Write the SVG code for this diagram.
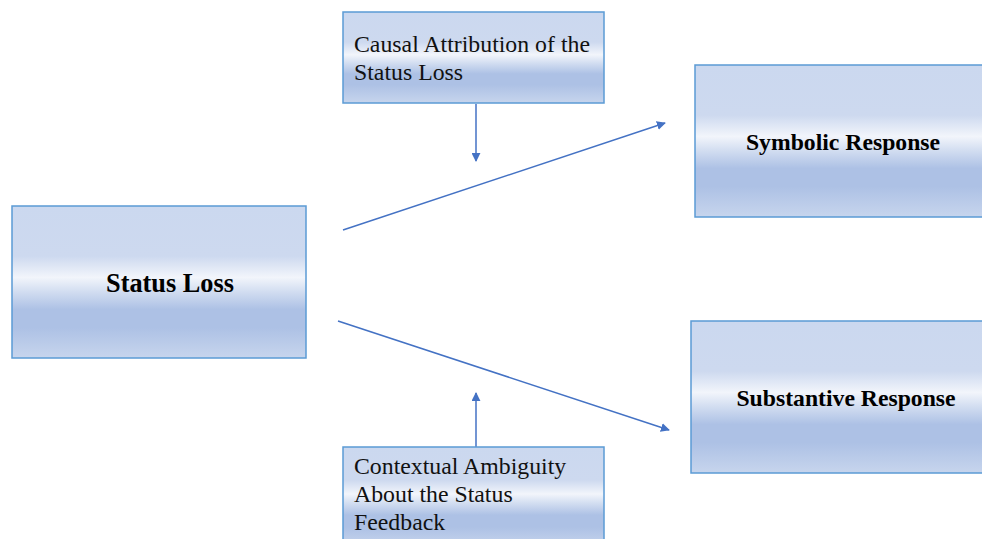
<svg xmlns="http://www.w3.org/2000/svg" width="982" height="539" viewBox="0 0 982 539">
<defs>
<linearGradient id="g" x1="0" y1="0" x2="0" y2="1">
<stop offset="0" stop-color="#cbd8ef"/>
<stop offset="0.33" stop-color="#cdd9ef"/>
<stop offset="0.47" stop-color="#f2f5fb"/>
<stop offset="0.56" stop-color="#d3def1"/>
<stop offset="0.68" stop-color="#adc1e5"/>
<stop offset="0.8" stop-color="#adc1e5"/>
<stop offset="1" stop-color="#c7d5ed"/>
</linearGradient>
<marker id="ah" viewBox="0 0 10 10" refX="9" refY="5" markerWidth="9" markerHeight="9" markerUnits="userSpaceOnUse" orient="auto">
<path d="M0,0 L10,5 L0,10 Z" fill="#4472c4"/>
</marker>
<style>
.box{fill:url(#g);stroke:#5b9bd5;stroke-width:1.5}
.b{font-family:'Liberation Serif','Times New Roman','DejaVu Serif',serif;font-weight:bold;fill:#000}
.r{font-family:'Liberation Serif','Times New Roman','DejaVu Serif',serif;font-size:23.8px;fill:#111}
.c{stroke:#4472c4;stroke-width:1.5;fill:none;marker-end:url(#ah)}
</style>
</defs>
<g id="connectors">
<line class="c" x1="343" y1="230" x2="665" y2="123"/>
<line class="c" x1="338" y1="321" x2="669" y2="430"/>
<line class="c" x1="476" y1="104" x2="476" y2="161"/>
<line class="c" x1="476" y1="447" x2="476" y2="393"/>
</g>
<g id="status-loss">
<rect class="box" x="12" y="206" width="294" height="152"/>
<text class="b" x="170" y="292" font-size="26.3" text-anchor="middle">Status Loss</text>
</g>
<g id="causal-attribution">
<rect class="box" x="343" y="12" width="261" height="91"/>
<text class="r" x="354" y="52">Causal Attribution of the</text>
<text class="r" x="354" y="80">Status Loss</text>
</g>
<g id="contextual-ambiguity">
<rect class="box" x="343" y="447" width="261" height="100"/>
<text class="r" x="354" y="474">Contextual Ambiguity</text>
<text class="r" x="354" y="502">About the Status</text>
<text class="r" x="354" y="530">Feedback</text>
</g>
<g id="symbolic-response">
<rect class="box" x="695" y="65" width="300" height="152"/>
<text class="b" x="843" y="150" font-size="23.7" text-anchor="middle">Symbolic Response</text>
</g>
<g id="substantive-response">
<rect class="box" x="691" y="321" width="300" height="152"/>
<text class="b" x="846" y="406" font-size="23.7" text-anchor="middle">Substantive Response</text>
</g>
</svg>
